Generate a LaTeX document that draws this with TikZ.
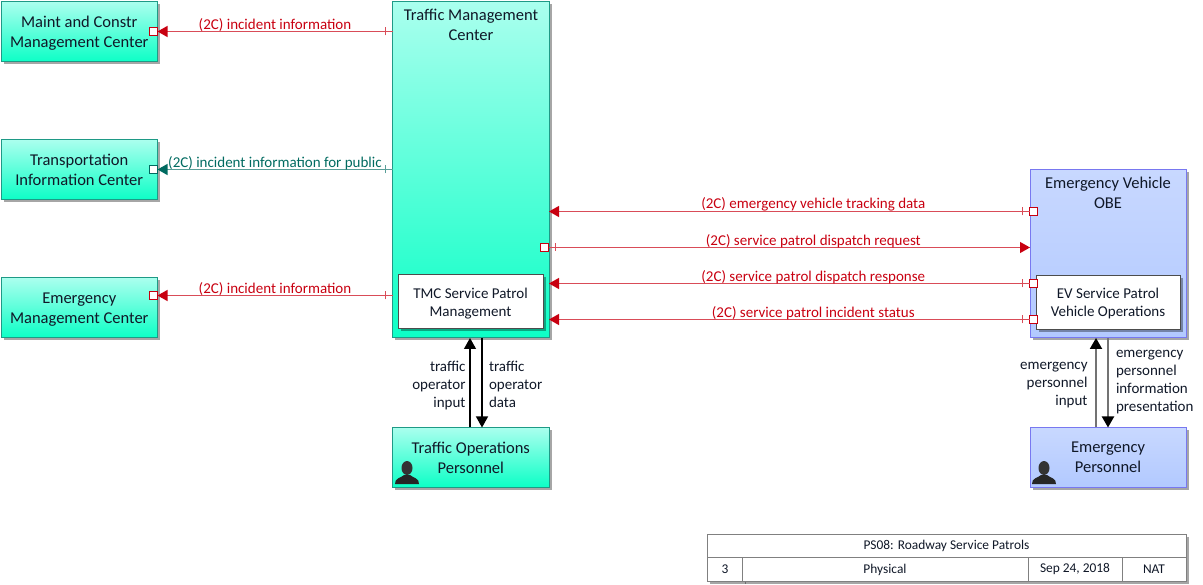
\documentclass[tikz,border=0pt]{standalone}
\usepackage{fontspec}
\setmainfont{Carlito}
\usetikzlibrary{arrows.meta,shadows,decorations.markings}
\definecolor{tealedge}{HTML}{1E9A86}
\definecolor{tealtop}{HTML}{AAFFEE}
\definecolor{tealbot}{HTML}{0CFFC6}
\definecolor{blueedge}{HTML}{7878F0}
\definecolor{bluetop}{HTML}{C8D8FF}
\definecolor{bluebot}{HTML}{B2C9FF}
\definecolor{flowred}{HTML}{C80010}
\definecolor{flowteal}{HTML}{006A60}
\definecolor{textdark}{HTML}{101828}
\begin{document}
\begin{tikzpicture}[x=1pt,y=-1pt,
            every node/.style={inner sep=0pt,outer sep=0pt,text=textdark},
            softshadow/.style={drop shadow={shadow xshift=2.5pt,shadow yshift=-2.5pt,fill=black,opacity=0.35}},
            tealbox/.style={rectangle,draw=tealedge,line width=1pt,top color=tealtop,bottom color=tealbot,softshadow,align=center,text depth=0pt,font=\fontsize{16.5}{20}\selectfont,minimum width=156.5pt},
            bluebox/.style={rectangle,draw=blueedge,line width=1pt,top color=bluetop,bottom color=bluebot,softshadow,align=center,text depth=0pt,font=\fontsize{16.5}{20}\selectfont,minimum width=156pt},
            whitebox/.style={rectangle,draw=black!70,line width=1pt,fill=white,softshadow,align=center,text depth=0pt,font=\fontsize{15}{18}\selectfont,minimum height=54pt},
            boxtitle/.style={align=center,font=\fontsize{16.5}{20}\selectfont},
            port/.style={rectangle,draw=#1,line width=1.2pt,fill=white,minimum size=8pt},
            tickstart/.style={postaction={decorate,decoration={markings,mark=at position #1 with {\draw[-,line width=1.2pt] (0,-4) -- (0,4);}}}},
            rededge/.style={color=flowred!70,line width=1.2pt,-{Triangle[length=10pt,width=11pt,color=flowred]},tickstart=7pt},
            tealflow/.style={color=flowteal!65,line width=1.2pt,-{Triangle[length=10pt,width=11pt,color=flowteal]},tickstart=7pt},
            blackedge/.style={draw=black,line width=1.2pt,-{Triangle[length=11pt,width=12pt,color=black]}},
            greyedge/.style={draw=black!55,line width=2pt,-{Triangle[length=11pt,width=12pt,color=black]}},
            redlabel/.style={text=flowred,font=\fontsize{15}{16}\selectfont,above=0pt},
            teallabel/.style={text=flowteal,font=\fontsize{15}{16}\selectfont,above=0pt},
            userlabel/.style={font=\fontsize{15}{18}\selectfont,align=#1},
            tablecell/.style={rectangle,draw=black!50,line width=1pt,fill=white,softshadow,font=\fontsize{13.4}{15}\selectfont},
            personicon/.pic={
                \fill[black!80] (0,-16) ellipse (5.5 and 7);
                \fill[black!85] (-12,0) .. controls (-12.5,-6) and (-6,-6) .. (-3,-9) -- (3,-9)
                    .. controls (6,-6) and (12.5,-6) .. (12,0) -- cycle;
            }
        ]
            \useasboundingbox (0,0) rectangle (1203,585);
            \node[tealbox,minimum height=60pt] (maint) at (79.25,32) {Maint and Constr\\Management Center};
            \node[tealbox,minimum height=60pt] (transp) at (79.25,170) {Transportation\\Information Center};
            \node[tealbox,minimum height=60pt] (emerg) at (79.25,308) {Emergency\\Management Center};
            \node[tealbox,minimum height=336pt] (tmc) at (470.75,170) {};
            \node[boxtitle] (tmctitle) at (471,25) {Traffic Management\\Center};
            \node[whitebox,minimum width=145pt] (tmcsp) at (470.5,302) {TMC Service Patrol\\Management};
            \node[tealbox,minimum height=60pt] (trafop) at (470.75,457.5) {Traffic Operations\\Personnel};
            \node[bluebox,minimum height=168pt] (evobe) at (1108,254) {};
            \node[boxtitle] (evtitle) at (1108,193) {Emergency Vehicle\\OBE};
            \node[whitebox,minimum width=144pt] (evsp) at (1108,302.5) {EV Service Patrol\\Vehicle Operations};
            \node[bluebox,minimum height=60pt] (empers) at (1108,457.5) {Emergency\\Personnel};
            \pic at (407,484) {personicon};
            \pic at (1044,484) {personicon};
            % ports
            \node[port=flowred] (maintport) at (153.5,31.5) {};
            \node[port=flowteal] (transpport) at (153.5,169.5) {};
            \node[port=flowred] (emergport) at (153.5,295.5) {};
            \node[port=flowred] (tmcport) at (544.5,247.5) {};
            \node[port=flowred] (evtrack) at (1033.5,211.5) {};
            \node[port=flowred] (evresp) at (1033.5,283.5) {};
            \node[port=flowred] (evstatus) at (1033.5,319.5) {};
            % flows
            \draw[rededge] (tmc.west |- maintport) -- (maint.east |- maintport)
                node[redlabel,midway] {(2C) incident information};
            \draw[tealflow] (tmc.west |- transpport) -- (transp.east |- transpport)
                node[teallabel,midway] {(2C) incident information for public};
            \draw[rededge] (tmc.west |- emergport) -- (emerg.east |- emergport)
                node[redlabel,midway] {(2C) incident information};
            \draw[rededge] (evtrack) -- (tmc.east |- evtrack)
                node[redlabel,pos=0.45] {(2C) emergency vehicle tracking data};
            \draw[rededge] (tmcport) -- (evobe.west |- tmcport)
                node[redlabel,pos=0.55] {(2C) service patrol dispatch request};
            \draw[rededge] (evresp) -- (tmc.east |- evresp)
                node[redlabel,pos=0.45] {(2C) service patrol dispatch response};
            \draw[rededge] (evstatus) -- (tmc.east |- evstatus)
                node[redlabel,pos=0.45] {(2C) service patrol incident status};
            % operators
            \coordinate (opup) at (470,0);
            \coordinate (opdown) at (482,0);
            \coordinate (emup) at (1096,0);
            \coordinate (emdown) at (1108,0);
            \draw[blackedge] (opup |- trafop.north) -- (opup |- tmc.south);
            \draw[blackedge] (opdown |- tmc.south) -- (opdown |- trafop.north);
            \draw[greyedge] (emup |- empers.north) -- (emup |- evobe.south);
            \draw[greyedge] (emdown |- evobe.south) -- (emdown |- empers.north);
            \node[userlabel=right,anchor=east] (opinlabel) at (465.5,386) {traffic\\operator\\input};
            \node[userlabel=left,anchor=west] (opoutlabel) at (489,384.5) {traffic\\operator\\data};
            \node[userlabel=right,anchor=east] (eminlabel) at (1087.5,385) {emergency\\personnel\\input};
            \node[userlabel=left,anchor=west] (emoutlabel) at (1116,382) {emergency\\personnel\\information\\presentation};
            % title block
            \node[tablecell,minimum width=479pt,minimum height=23pt] (tbltitle) at (946.5,546) {PS08: Roadway Service Patrols};
            \node[tablecell,minimum width=36pt,minimum height=24pt] (tblnum) at (725,569.5) {3};
            \node[tablecell,minimum width=286pt,minimum height=24pt] (tblview) at (885,569.5) {Physical};
            \node[tablecell,minimum width=94pt,minimum height=24pt] (tbldate) at (1075,569.5) {Sep 24, 2018};
            \node[tablecell,minimum width=64pt,minimum height=24pt] (tblnat) at (1154,569.5) {NAT};
        \end{tikzpicture}
\end{document}
